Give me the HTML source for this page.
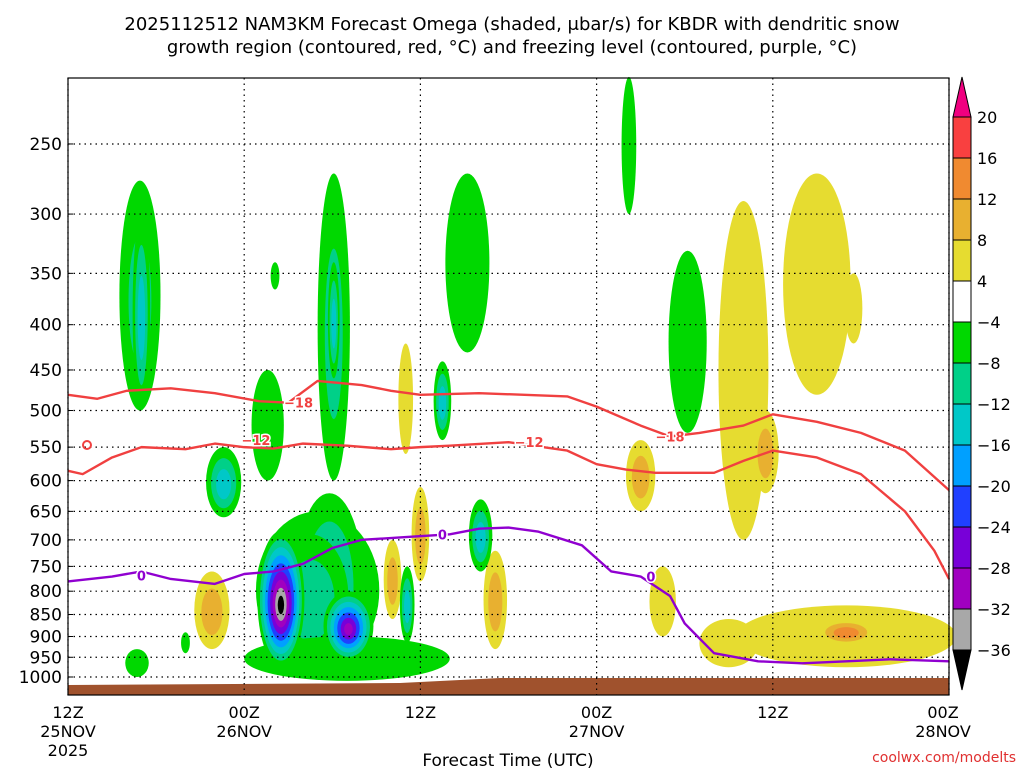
<!DOCTYPE html>
<html><head><meta charset="utf-8"><style>
body{margin:0;background:#fff;}
svg{display:block;font-family:"DejaVu Sans","Liberation Sans",sans-serif;}
</style></head><body>
<svg id="chart" width="1024" height="768" viewBox="0 0 1024 768">
<text x="512" y="30" text-anchor="middle" font-size="18">2025112512 NAM3KM Forecast Omega (shaded, μbar/s) for KBDR with dendritic snow</text>
<text x="512" y="53" text-anchor="middle" font-size="18">growth region (contoured, red, °C) and freezing level (contoured, purple, °C)</text>
<g id="shade"></g>
<g id="ground"></g>
<g id="grid"></g>
<g id="lines"></g>
<rect x="68" y="78" width="881" height="617" fill="none" stroke="#000" stroke-width="1.2"/>
<g id="axes"></g>
<g id="cbar"></g>
<text x="508" y="766" text-anchor="middle" font-size="17">Forecast Time (UTC)</text>
<text x="1016" y="762" text-anchor="end" font-size="14" fill="#e03030">coolwx.com/modelts</text>
</svg>
<script>
const pTicks=[250,300,350,400,450,500,550,600,650,700,750,800,850,900,950,1000];
const tHours=[0,12,24,36,48,60];
const tLabels=[["12Z","25NOV","2025"],["00Z","26NOV"],["12Z"],["00Z","27NOV"],["12Z"],["00Z","28NOV"]];
// contour -18C
const c18H=[0,2,4,7,10,13,15,17,20,22,24,28,34,36,39,41,43,46,48,51,54,57,60];
const c18P=[480,485,475,472,478,488,490,463,468,475,480,478,482,495,520,535,530,520,505,515,530,555,615];
// contour -12C
const c12H=[0,1,3,5,8,10,12,14,16,19,22,24,26,30,34,36,38,40,44,46,48,51,54,57,59,60];
const c12P=[585,590,565,550,553,545,550,552,545,548,553,550,548,543,555,575,583,588,588,570,555,565,590,650,720,775];
// freezing level 0C
const c0H=[0,3,5,7,10,12,14,16,18,20,23,26,28,30,32,35,37,39,41,42,44,47,50,53,56,60];
const c0P=[780,770,760,775,785,765,760,745,715,700,695,690,680,678,685,710,760,770,810,870,940,960,965,960,955,960];
// omega cells: center hour, top p, bottom p, half-width (h), peak value
const cellHour=[4.9,5.0,14.1,18.1,18.1,27.2,38.2,42.2,13.6,10.6,
  19,17.8,14.5,19.1,23.1,28.1,25.5,4.7,8,17,16.5,
  9.8,23,24,22.1,29.1,39,40.5,46,47.5,51,53.5,53,45,53];
const cellTop=[275,300,340,270,340,270,210,330,450,550,
  900,620,684,800,750,630,440,930,890,650,690,
  760,420,610,700,720,540,750,290,500,270,350,830,860,860];
const cellBot=[500,500,365,600,460,430,300,530,600,660,
  1010,990,975,960,915,760,540,1000,940,980,960,
  930,560,780,860,930,650,900,700,620,480,420,975,975,920];
const cellHalfW=[1.4,0.6,0.3,1.1,0.4,1.5,0.5,1.3,1.1,1.2,
  7,2.3,1.6,1.7,0.5,0.8,0.6,0.8,0.3,4.2,2.6,
  1.2,0.5,0.6,0.6,0.8,1.0,0.9,1.7,0.9,2.3,0.6,7.5,2,2.0];
const cellPeak=[-9,-14,-6,-9,-14,-6,-6,-6,-6,-14,
  -6,-14,-37,-29,-14,-14,-14,-6,-6,-6,-11,
  10,6,10,10,10,10,6,6,10,6,6,6,6,14];
const cbarLabels=["20","16","12","8","4","−4","−8","−12","−16","−20","−24","−28","−32","−36"];
const posColors=["#e6dc30","#e8b030","#f08a30","#f94040","#f00080"];
const negColors=["#00d800","#00d088","#00c8c8","#00a0ff","#2040ff","#7800d8","#a000c0","#a8a8a8","#000000"];
const NS="http://www.w3.org/2000/svg";
const X0=68,X1=949,Y1000=677,K=384.5;
const xs=h=>X0+(X1-X0)*h/60;
const ys=p=>Y1000-K*Math.log(1000/p);
function el(t,a,parent){const e=document.createElementNS(NS,t);for(const k in a)e.setAttribute(k,a[k]);parent.appendChild(e);return e;}
const shade=document.getElementById('shade');
const order=cellHour.map((_,i)=>i).sort((a,b)=>(cellHalfW[b]*(ys(cellBot[b])-ys(cellTop[b])))-(cellHalfW[a]*(ys(cellBot[a])-ys(cellTop[a]))));
order.forEach(i=>{
  const cx=xs(cellHour[i]),yt=ys(cellTop[i]),yb=ys(cellBot[i]);
  const cy=(yt+yb)/2,rx=(xs(cellHalfW[i])-X0),ry=(yb-yt)/2;
  const pk=Math.abs(cellPeak[i]);const cols=cellPeak[i]<0?negColors:posColors;
  for(let t=4,k=0;t<=pk&&k<cols.length;t+=4,k++){
    const s=1-(t-4)/pk;
    const e=el('ellipse',{cx:cx,cy:cy+(1-s)*ry*0.1,rx:rx*s,ry:ry*s,fill:cols[k]},shade);
    
    
  }
});
const gGround=document.getElementById('ground');
const gr=el('polygon',{points:"68,685 400,683 500,678 949,678 949,695 68,695",fill:"#a0522d"},gGround);


const gridG=document.getElementById('grid'),axesG=document.getElementById('axes');
pTicks.forEach(p=>{
  const ln=el('line',{x1:X0,x2:X1,y1:ys(p),y2:ys(p),stroke:"#000","stroke-dasharray":"1.5,4","stroke-width":1.2},gridG);
  
  
  const tk=el('line',{x1:X0,x2:X0+5,y1:ys(p),y2:ys(p),stroke:"#000"},axesG);
  
  
  const tx=el('text',{x:62,y:ys(p)+6,"text-anchor":"end","font-size":17},axesG);
  tx.textContent=p;
  
  
});
tHours.forEach((h,i)=>{
  const ln=el('line',{x1:xs(h),x2:xs(h),y1:78,y2:695,stroke:"#000","stroke-dasharray":"1.5,4","stroke-width":1.2},gridG);
  
  
  tLabels[i].forEach((s,j)=>{
    const tx=el('text',{x:xs(h)-(i==5?6:0),y:718+j*19,"text-anchor":"middle","font-size":16},axesG);
    tx.textContent=s;
    
    
  });
});
const linesG=document.getElementById('lines');
function contour(H,P,col,name){
  const pl=el('polyline',{points:H.map((h,i)=>xs(h)+","+ys(P[i])).join(" "),fill:"none",stroke:col,"stroke-width":2.4,"stroke-linejoin":"round"},linesG);
  
  
}
contour(c18H,c18P,"#f04040","contour-minus18");
contour(c12H,c12P,"#f04040","contour-minus12");
contour(c0H,c0P,"#9000d0","freezing-level-contour");
function lab(h,p,s,col){
  const t=el('text',{x:xs(h),y:ys(p)+5,"text-anchor":"middle","font-size":13,"font-weight":"bold",fill:col,stroke:"#fff","stroke-width":3,"paint-order":"stroke"},linesG);
  t.textContent=s;
  
  
}
lab(15.7,490,"−18","#f04040");lab(41,535,"−18","#f04040");
lab(12.8,540,"−12","#f04040");lab(31.4,543,"−12","#f04040");
lab(5,768,"0","#9000d0");lab(25.5,690,"0","#9000d0");lab(39.7,770,"0","#9000d0");
const circ=el('ellipse',{cx:87,cy:445,rx:4,ry:4,fill:"none",stroke:"#f04040","stroke-width":2},linesG);


const cb=document.getElementById('cbar');
const boxCols=["#f94040","#f08a30","#e8b030","#e6dc30","#ffffff","#00d800","#00d088","#00c8c8","#00a0ff","#2040ff","#7800d8","#a000c0","#a8a8a8"];
const CX0=953,CX1=971,CY0=117,BH=41;
const cbTop=el('polygon',{points:`${CX0},${CY0} ${CX1},${CY0} ${(CX0+CX1)/2},77`,fill:"#f00080",stroke:"#000"},cb);


boxCols.forEach((c,i)=>{
  const r=el('rect',{x:CX0,y:CY0+i*BH,width:CX1-CX0,height:BH,fill:c,stroke:"#000"},cb);
  
  
});
const cbY=CY0+boxCols.length*BH;
const cbBot=el('polygon',{points:`${CX0},${cbY} ${CX1},${cbY} ${(CX0+CX1)/2},${cbY+40}`,fill:"#000",stroke:"#000"},cb);


cbarLabels.forEach((s,i)=>{
  const t=el('text',{x:977,y:CY0+i*BH+6,"font-size":16},cb);
  t.textContent=s;
  
  
});
</script>
</body></html>
